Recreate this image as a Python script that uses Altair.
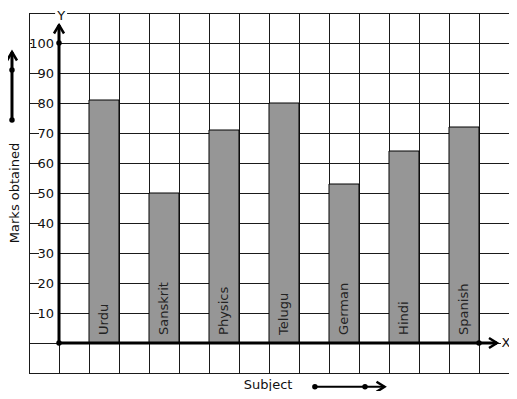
import altair as alt
import pandas as pd

# ---- data ----
subjects = ["Urdu", "Sanskrit", "Physics", "Telugu", "German", "Hindi", "Spanish"]
marks = [81, 50, 71, 80, 53, 64, 72]
y_tick_values = [10, 20, 30, 40, 50, 60, 70, 80, 90, 100]
x_grid = list(range(-1, 16))
y_grid = list(range(-10, 111, 10))

FONT = "DejaVu Sans"
GRID = "#1a1a1a"

bars = pd.DataFrame({"subject": subjects, "marks": marks})
bars["start"] = [2 * i + 1 for i in range(len(subjects))]
bars["end"] = bars["start"] + 1
bars["mid"] = bars["start"] + 0.5
bars["zero"] = 0
bars["label_y"] = 2.7

ticks = pd.DataFrame({"v": y_tick_values, "label": [str(v) for v in y_tick_values]})
ticks["x1"] = -(6 + 7.0 * ticks["label"].str.len()) / 30
ticks["zero"] = 0
ticks["y1"] = ticks["v"] - 2.4
ticks["y2"] = ticks["v"] + 2.4

xs = alt.Scale(domain=[-1, 15], nice=False, zero=False)
ys = alt.Scale(domain=[-10, 110], nice=False, zero=False)

def X(f):
    return alt.X(f, scale=xs, axis=None)

def Y(f):
    return alt.Y(f, scale=ys, axis=None)

# grid lines
vgrid = pd.DataFrame({"x": x_grid, "y": -10, "y2": 110})
hgrid = pd.DataFrame({"y": y_grid, "x": -1, "x2": 15})
vgrid_layer = alt.Chart(vgrid).mark_rule(color=GRID, strokeWidth=1, xOffset=0.5).encode(
    x=X("x:Q"), y=Y("y:Q"), y2="y2:Q")
hgrid_layer = alt.Chart(hgrid).mark_rule(color=GRID, strokeWidth=1, yOffset=0.5).encode(
    y=Y("y:Q"), x=X("x:Q"), x2="x2:Q")

# white label backgrounds (hide grid behind tick labels)
label_bg = alt.Chart(ticks).mark_rect(color="white").encode(
    x=X("x1:Q"), x2="zero:Q", y=Y("y1:Q"), y2="y2:Q")

bar_layer = alt.Chart(bars).mark_rect(fill="#969696", stroke="black", strokeWidth=1).encode(
    x=X("start:Q"), x2="end:Q", y=Y("zero:Q"), y2="marks:Q")

bar_text = alt.Chart(bars).mark_text(angle=270, align="left", baseline="middle",
                                     font=FONT, fontSize=13, color="#222").encode(
    x=X("mid:Q"), y=Y("label_y:Q"), text="subject:N")

tick_text = alt.Chart(ticks).mark_text(align="right", baseline="middle", dx=-5, dy=1,
                                       font=FONT, fontSize=13, color="#111").encode(
    x=X("zero:Q"), y=Y("v:Q"), text="label:N")

# decorative axis lines / arrows (in data units: x unit = 30px, y unit = 3px)
rules = pd.DataFrame({
    "x": [0, 0, -1.567, 8.53],
    "x2": [0, 14.6, -1.567, 10.85],
    "y": [0, 0, 74.3, -14.6],
    "y2": [106, 0, 97, -14.6],
    "w": [3, 3, 3, 2],
})
rule_layer = alt.Chart(rules).mark_rule(color="black").encode(
    x=X("x:Q"), x2="x2:Q", y=Y("y:Q"), y2="y2:Q",
    strokeWidth=alt.StrokeWidth("w:Q", scale=None, legend=None))

dots = pd.DataFrame({"x": [0, 0, 14, -1.567, -1.567, 8.53, 10.2],
                     "y": [0, 100, 0, 91, 74.3, -14.6, -14.6]})
dot_layer = alt.Chart(dots).mark_circle(color="black", opacity=1, size=30).encode(
    x=X("x:Q"), y=Y("y:Q"))

up_heads = pd.DataFrame({"x": [0, -1.567], "y": [106, 97]})
up_layer = alt.Chart(up_heads).mark_point(shape="M-1,1.7L0,0L1,1.7", filled=False, stroke="black",
                                          strokeWidth=2.5, opacity=1, size=100).encode(
    x=X("x:Q"), y=Y("y:Q"))

right_heads = pd.DataFrame({"x": [14.6, 10.85], "y": [0, -14.6]})
right_layer = alt.Chart(right_heads).mark_point(shape="M-1.6,-1L0,0L-1.6,1", filled=False, stroke="black",
                                                strokeWidth=2.5, opacity=1, size=100).encode(
    x=X("x:Q"), y=Y("y:Q"))

# axis letters with white backgrounds
letters = pd.DataFrame({"t": ["Y", "X"], "x": [0.07, 14.9], "y": [109.0, 0],
                        "x1": [-0.13, 14.73], "x2": [0.27, 15.1], "y1": [106.5, -2.3], "y2": [113, 2.3]})
letter_bg = alt.Chart(letters).mark_rect(color="white").encode(
    x=X("x1:Q"), x2="x2:Q", y=Y("y1:Q"), y2="y2:Q")
letter_text = alt.Chart(letters).mark_text(font=FONT, fontSize=13, color="#111", baseline="middle",
                                           align="center").encode(
    x=X("x:Q"), y=Y("y:Q"), text="t:N")

titles = pd.DataFrame({"t": ["Marks obtained"], "x": [-1.47], "y": [50.0]})
ytitle = alt.Chart(titles).mark_text(font=FONT, fontSize=13, color="#111", angle=270,
                                     baseline="middle", align="center").encode(
    x=X("x:Q"), y=Y("y:Q"), text="t:N")
xt = pd.DataFrame({"t": ["Subject"], "x": [6.97], "y": [-14.0]})
xtitle = alt.Chart(xt).mark_text(font=FONT, fontSize=13, color="#111",
                                 baseline="middle", align="center").encode(
    x=X("x:Q"), y=Y("y:Q"), text="t:N")

chart = alt.layer(
    vgrid_layer, hgrid_layer, label_bg, bar_layer, bar_text, tick_text, rule_layer, dot_layer,
    up_layer, right_layer, letter_bg, letter_text, ytitle, xtitle,
).properties(
    width=480, height=360, autosize="none",
    padding={"left": 21, "top": 5, "right": 0, "bottom": 18},
).configure_view(stroke=None).configure(background="white")

chart.save("out.html", embed_options={"renderer": "svg", "actions": False})
